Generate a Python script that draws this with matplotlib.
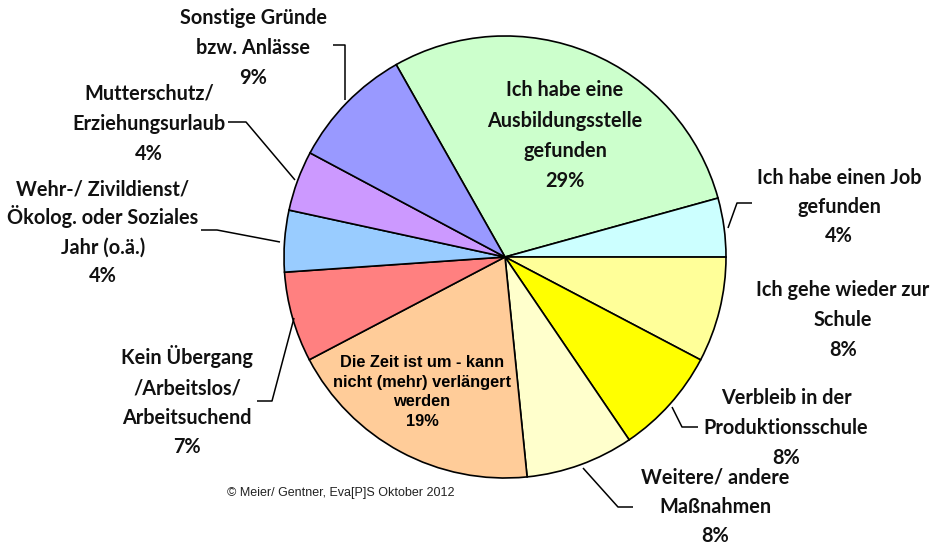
import matplotlib
matplotlib.use("Agg")
import matplotlib.pyplot as plt

# ---- data ----
categories = [
    "Ich habe eine\nAusbildungsstelle\ngefunden",
    "Ich habe einen Job\ngefunden",
    "Ich gehe wieder zur\nSchule",
    "Verbleib in der\nProduktionsschule",
    "Weitere/ andere\nMaßnahmen",
    "Die Zeit ist um - kann\nnicht (mehr) verlängert\nwerden",
    "Kein Übergang\n/Arbeitslos/\nArbeitsuchend",
    "Wehr-/ Zivildienst/\nÖkolog. oder Soziales\nJahr (o.ä.)",
    "Mutterschutz/\nErziehungsurlaub",
    "Sonstige Gründe\nbzw. Anlässe",
]
values = [28.9, 4.3, 7.7, 7.8, 7.9, 18.9, 6.6, 4.5, 4.4, 9.0]
pct_labels = ["29%", "4%", "8%", "8%", "8%", "19%", "7%", "4%", "4%", "9%"]
colors = ["#CCFFCC", "#CCFFFF", "#FFFF99", "#FFFF00", "#FFFFCC",
          "#FFCC99", "#FF8080", "#99CCFF", "#CC99FF", "#9999FF"]
source = "© Meier/ Gentner, Eva[P]S Oktober 2012"

W, H = 938, 545
fig = plt.figure(figsize=(W / 100, H / 100), dpi=100)
ax = fig.add_axes([0, 0, 1, 1])


def Y(y):
    return H - y


explode = [0.02] + [0] * (len(values) - 1)
ax.pie(values, colors=colors, startangle=119.5, counterclock=False,
       center=(505, Y(257)), radius=221, explode=explode,
       wedgeprops=dict(edgecolor="black", linewidth=1.2), frame=True)
ax.set_xlim(0, W)
ax.set_ylim(0, H)
ax.axis("off")

calib = dict(family=["Lato", "DejaVu Sans"], fontweight="bold", fontsize=14.3,
             color="#111111", ha="center", va="baseline")

# label positions: center x, visual center y of first line, line spacing (px)
label_pos = {
    0: (565, 90, 30.3),
    1: (839, 177, 29.5),
    2: (843, 290, 30),
    3: (786, 398, 30),
    4: (715, 477, 29.3),
    6: (187, 358, 29.6),
    7: (103, 189, 29),
    8: (149, 93, 30.5),
    9: (253, 18, 29.5),
}
for i, (x, y0, dy) in label_pos.items():
    lines = categories[i].split("\n") + [pct_labels[i]]
    for k, line in enumerate(lines):
        ax.text(x, Y(y0 + k * dy + 6.5), line, **calib)

# inner label for "Die Zeit ..." in Arial-like font
zlines = categories[5].split("\n") + [pct_labels[5]]
for k, line in enumerate(zlines):
    ax.text(422, Y(362 + k * 19.4 + 5.4), line,
            family=["Liberation Sans", "DejaVu Sans"], fontweight="bold",
            fontsize=11.8, color="#000000", ha="center", va="baseline")

# leader lines
leaders = [
    [(333, 45), (345, 45), (345, 100)],
    [(228, 122), (246, 122), (295, 180)],
    [(201, 230), (217, 230), (280, 242)],
    [(257, 401), (272, 401), (294, 318)],
    [(752, 203), (737, 203), (728, 228)],
    [(698, 427), (682, 427), (672, 407)],
    [(633, 507), (618, 507), (583, 468)],
]
for pts in leaders:
    xs = [p[0] for p in pts]
    ys = [Y(p[1]) for p in pts]
    ax.plot(xs, ys, color="black", linewidth=1.1, solid_capstyle="butt")

ax.text(341, Y(493), source, family=["Liberation Sans", "DejaVu Sans"],
        fontsize=9, color="#222222", ha="center", va="center")

fig.savefig("out.png", dpi=100)
